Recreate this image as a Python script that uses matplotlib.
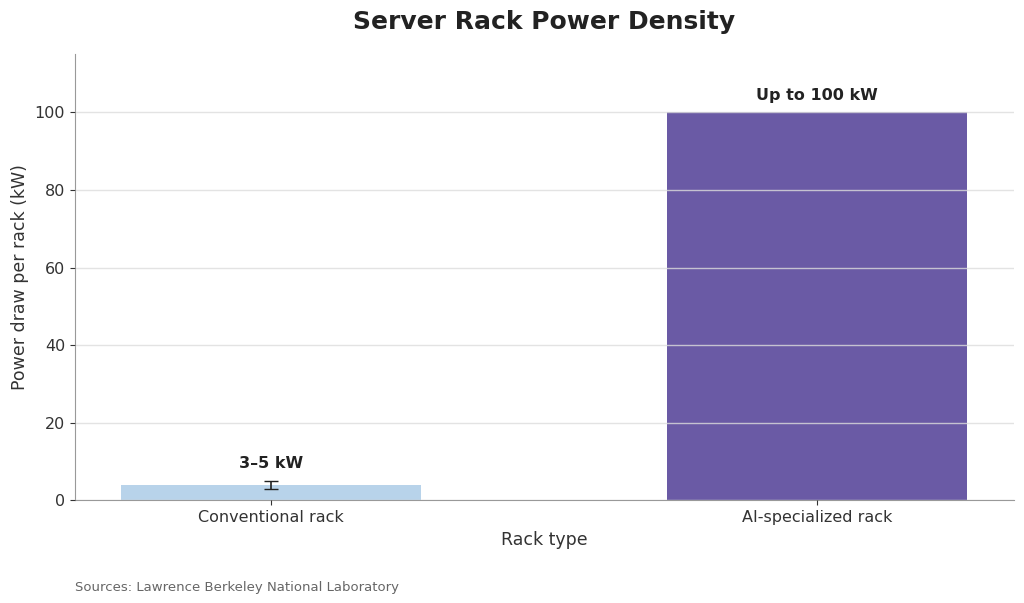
import matplotlib
matplotlib.use('Agg')
import matplotlib.pyplot as plt

categories = ['Conventional rack', 'AI-specialized rack']
values = [4, 100]
err_low = [1, 0]
err_high = [1, 0]
labels = ['3–5 kW', 'Up to 100 kW']
colors = ['#b8d3ea', '#6a5aa5']

fig, ax = plt.subplots(figsize=(10.24, 6.03), dpi=100)
bars = ax.bar(categories, values, width=0.55, color=colors, zorder=2)
ax.errorbar([0], [values[0]], yerr=[[err_low[0]], [err_high[0]]], fmt='none',
            ecolor='#222222', capsize=5, lw=1.2, zorder=3)
ax.yaxis.grid(True, color='#dddddd', lw=1, zorder=2.5, alpha=0.8)
ax.set_axisbelow(False)
for i, (v, lab) in enumerate(zip(values, labels)):
    top = v + err_high[i]
    ax.text(i, top + 2.5, lab, ha='center', va='bottom', fontsize=11.5,
            fontweight='bold', color='#222222')
ax.set_ylim(0, 115)
ax.set_yticks([0, 20, 40, 60, 80, 100])
ax.set_xlim(-0.36, 1.36)
for s in ['top', 'right']:
    ax.spines[s].set_visible(False)
for s in ['left', 'bottom']:
    ax.spines[s].set_color('#999999')
ax.tick_params(labelsize=11.5, colors='#333333')
ax.set_ylabel('Power draw per rack (kW)', fontsize=12.5, color='#333333')
ax.set_xlabel('Rack type', fontsize=12.5, color='#333333')
ax.set_title('Server Rack Power Density', fontsize=18, fontweight='bold',
             color='#222222', pad=18)
fig.text(0.073, 0.02, 'Sources: Lawrence Berkeley National Laboratory',
         fontsize=9.5, color='#666666')
plt.subplots_adjust(left=0.073, right=0.99, top=0.91, bottom=0.17)
plt.savefig('out.png', dpi=100)
